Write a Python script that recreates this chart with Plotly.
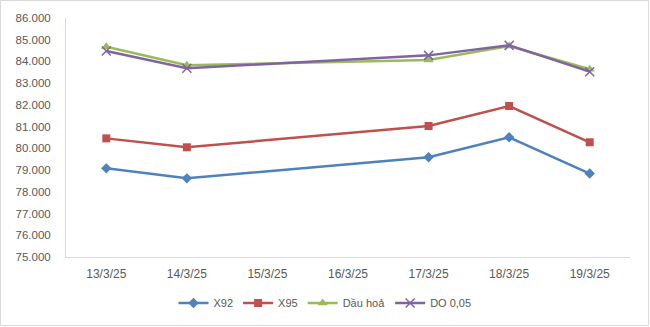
import plotly.graph_objects as go

# Giá bán lẻ xăng dầu (đồng/lít) theo ngày
dates = ["13/3/25", "14/3/25", "15/3/25", "16/3/25", "17/3/25", "18/3/25", "19/3/25"]
x92 = [79080, 78620, None, None, 79590, 80510, 78840]
x95 = [80460, 80050, None, None, 81030, 81950, 80280]
dau_hoa = [84680, 83830, None, None, 84070, 84710, 83640]
do_005 = [84480, 83690, None, None, 84280, 84740, 83530]

series = [
    ("X92", x92, "#4F81BD", dict(symbol="diamond", size=8)),
    ("X95", x95, "#C0504D", dict(symbol="square", size=8)),
    ("Dầu hoả", dau_hoa, "#9BBB59", dict(symbol="triangle-up", size=9)),
    ("DO 0,05", do_005, "#8064A2", dict(symbol="x-thin-open", size=9, line=dict(width=1.5, color="#8064A2"))),
]

fig = go.Figure()
for name, vals, color, marker in series:
    fig.add_trace(go.Scatter(
        x=dates, y=vals, name=name, mode="lines+markers",
        connectgaps=True,
        line=dict(color=color, width=2.5),
        marker=dict(color=color, **marker),
    ))

W, H = 650, 327
L, R, T, B = 66, 20, 18, 70
pw, ph = W - L - R, H - T - B

fig.update_layout(
    width=W, height=H,
    margin=dict(l=L, r=R, t=T, b=B, autoexpand=False),
    paper_bgcolor="white", plot_bgcolor="white",
    separators=",.",
    font=dict(family="Liberation Sans, Arial, sans-serif", size=11, color="#595959"),
    showlegend=True,
    legend=dict(orientation="h", x=0.5, xanchor="center", xref="container",
                y=24 / H, yanchor="middle", yref="container",
                font=dict(size=11, color="#595959"), itemwidth=30, tracegroupgap=0),
    xaxis=dict(type="category", range=[-0.5, 6.5], showgrid=False,
               showline=True, linecolor="#D9D9D9", linewidth=1,
               ticks="", ticklabelstandoff=6,
               tickfont=dict(size=12, color="#595959")),
    yaxis=dict(range=[75000, 86000], dtick=1000, tickformat=",.0f",
               showgrid=False, showline=True, linecolor="#D9D9D9", linewidth=1,
               zeroline=False, ticks="", ticklabelstandoff=12,
               tickfont=dict(size=11.5, color="#595959")),
    shapes=[dict(type="rect", xref="paper", yref="paper",
                 x0=(-L + 0.5) / pw, x1=(W - L - 1.5) / pw,
                 y0=(-(B) + 1.5) / ph, y1=(ph + T - 0.5) / ph,
                 line=dict(color="#D9D9D9", width=1), layer="below")],
)

fig.write_html("out.html")
